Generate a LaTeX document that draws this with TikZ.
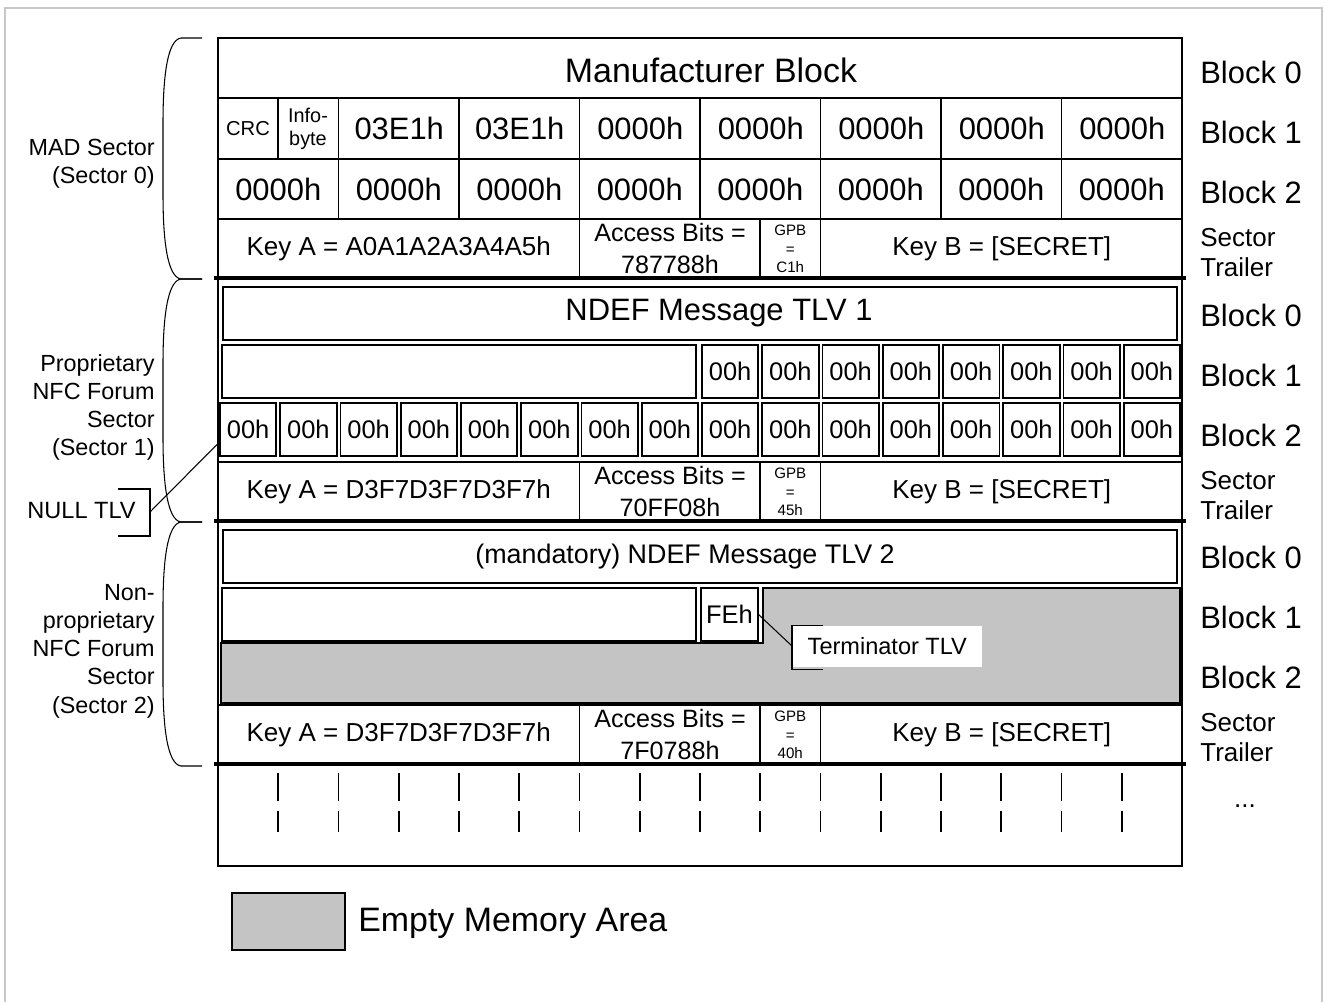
\documentclass[tikz,border=0pt]{standalone}
\usepackage{fontspec}
\setmainfont{Liberation Sans}
\usepackage{tikz}
\usetikzlibrary{calc}
\definecolor{framegray}{RGB}{200,200,200}
\definecolor{emptyfill}{RGB}{196,196,196}

\begin{document}
\begin{tikzpicture}[x=0.02cm, y=-0.02cm,
    big/.style={font=\fontsize{17.6}{20}\selectfont, inner sep=0pt},
    mid/.style={font=\fontsize{14.8}{17}\selectfont, inner sep=0pt},
    acc/.style={font=\fontsize{14.3}{18}\selectfont, align=center, inner sep=0pt},
    gpb/.style={font=\fontsize{8.6}{10.5}\selectfont, align=center, inner sep=0pt},
    trl/.style={font=\fontsize{14.8}{17.6}\selectfont, align=left, anchor=west, inner sep=0pt},
    side/.style={font=\fontsize{13.3}{16.1}\selectfont, align=right, anchor=east, inner sep=0pt},
    note/.style={font=\fontsize{13.4}{16}\selectfont, inner sep=0pt},
    byte/.style={draw, line width=1pt, minimum width=1.13cm, minimum height=1.05cm,
                 inner sep=0pt, font=\fontsize{14.5}{16}\selectfont},
    cellline/.style={line width=0.8pt},
    tlvline/.style={line width=0.9pt},
    sectline/.style={line width=2.8pt},
    paren/.style={line width=0.6pt},
    callout/.style={line width=0.6pt},
    emptyarea/.style={fill=emptyfill, draw, line width=0.6pt}]

  \useasboundingbox (0,0) rectangle (1326,1002);
  \draw[framegray, line width=0.8pt] (5,1002) -- (5,8) -- (1322,8) -- (1322,1002);

  % memory outline
  \draw[line width=1.1pt] (218,38) rectangle (1182,866);

  % sector 0 (MAD)
  \draw[cellline] (218,98) -- (1182,98) (218,159) -- (1182,159);
  \draw[cellline] (278,98) -- (278,159);
  \foreach \x in {338.5,459,579.5,700,820.5,941,1061.5}
    \draw[cellline] (\x,98) -- (\x,219);
  \node[font=\fontsize{19.3}{22}\selectfont, inner sep=0pt] (manuf) at (711,70) {Manufacturer Block};
  \node[font=\fontsize{11.5}{13}\selectfont, inner sep=0pt] (crc) at (248,128.5) {CRC};
  \node[font=\fontsize{11.3}{13}\selectfont, align=center, inner sep=0pt] (info) at (308,129) {Info-\\byte};
  \foreach \x/\lab [count=\i] in {399.25/03E1h, 519.75/03E1h, 640.25/0000h, 760.75/0000h,
                                  881.25/0000h, 1001.75/0000h, 1122.25/0000h}
    \node[big] (ra\i) at (\x,128.5) {\lab};
  \foreach \k in {0,...,7}
    \node[big] (rb\k) at ({278.25+\k*120.5},189) {0000h};

  % sector trailers
  \foreach \t/\ka/\ab/\gp [count=\s] in {219/A0A1A2A3A4A5h/787788h/C1h,
                                        462/D3F7D3F7D3F7h/70FF08h/45h,
                                        705/D3F7D3F7D3F7h/7F0788h/40h} {
    \draw[cellline] (218,\t) -- (1182,\t);
    \foreach \x in {579.5,760,820.5}
      \draw[cellline] (\x,\t) -- (\x,{\t+59});
    \node[mid] (keya\s) at (398.75,{\t+30}) {Key A = \ka};
    \node[acc] (acc\s) at (670,{\t+29.5}) {Access Bits =\\\ab};
    \node[gpb] (gpb\s) at (790.25,{\t+30}) {GPB\\=\\\gp};
    \node[mid] (keyb\s) at (1001.75,{\t+30}) {Key B = [SECRET]};
  }
  \foreach \y in {278,521,764}
    \draw[sectline] (214,\y) -- (1186,\y);

  % sector 1
  \draw[tlvline] (223,287) rectangle (1177,340);
  \node[big] (tlv1) at (719,313.5) {NDEF Message TLV 1};
  \draw[tlvline] (222,345) rectangle (696,398);
  \foreach \k in {8,...,15}
    \node[byte] (pa\k) at ({218+(\k+0.5)*60.25},371.5) {00h};
  \foreach \k in {0,...,15}
    \node[byte] (pb\k) at ({218+(\k+0.5)*60.25},429.5) {00h};

  % sector 2
  \draw[tlvline] (223,530) rectangle (1177,583);
  \node[font=\fontsize{15.3}{18}\selectfont, inner sep=0pt] (tlv2) at (685,556.5) {(mandatory) NDEF Message TLV 2};
  \draw[tlvline] (222,588) rectangle (696,641);
  \draw[emptyarea] (763,588) -- (1180,588) -- (1180,703) -- (221,703)
    -- (221,643) -- (763,643) -- cycle;
  \node[byte] (fe) at (729.4,614.5) {FEh};

  % terminator callout
  \node[note, fill=white, minimum width=3.8cm, minimum height=0.82cm, anchor=west] (term) at (792,646) {Terminator TLV};
  \draw[callout] ($(term.north west)+(31,0)$) -- (term.north west)
    -- ($(term.south west)+(0,3)$) -- ($(term.south west)+(31,3)$);
  \draw[callout] (fe.east) -- (term.west);

  % null tlv callout
  \node[note, anchor=east] (null) at (136,511) {NULL TLV};
  \draw[callout] (118,489) -- (150,489) -- (150,536) -- (118,536);
  \coordinate (nulltip) at (150,512);
  \draw[callout] (nulltip) -- ($(pb0.west)+(0,13)$);

  % remaining sectors
  \foreach \k in {1,...,15}
    \draw[line width=1.1pt, dash pattern=on 0.56cm off 0.2cm] ({218+\k*60.25},773) -- ({218+\k*60.25},832);
  \node[mid] (more) at (1245,806) {...};

  % sector braces
  \foreach \t/\b in {38/279, 279/522, 522/766}
    \draw[paren] (202,\t) -- (181,\t) .. controls (167,{\t+2}) and (163,{\t+40}) .. (163,{\t+85})
      -- (163,{\b-85}) .. controls (163,{\b-40}) and (167,{\b-2}) .. (181,\b) -- (202,\b);
  \node[side] (mad) at (155,163.5) {MAD Sector\\(Sector 0)};
  \node[side] (prop) at (155,407.5) {Proprietary\\NFC Forum\\Sector\\(Sector 1)};
  \node[side] (nonprop) at (155,651) {Non-\\proprietary\\NFC Forum\\Sector\\(Sector 2)};

  % block labels
  \foreach \o [count=\s from 0] in {0,243,485} {
    \node[big, anchor=west] (blka\s) at (1200,{72+\o}) {Block 0};
    \node[big, anchor=west] (blkb\s) at (1200,{132+\o}) {Block 1};
    \node[big, anchor=west] (blkc\s) at (1200,{192+\o}) {Block 2};
    \node[trl] (trl\s) at (1200,{252.5+\o}) {Sector\\Trailer};
  }

  % legend
  \node[emptyarea, line width=1.1pt, minimum width=2.26cm, minimum height=1.14cm] (legbox) at (288.5,921.5) {};
  \node[font=\fontsize{19.3}{22}\selectfont, anchor=west, inner sep=0pt] (legtxt) at (358,923) {Empty Memory Area};
\end{tikzpicture}
\end{document}
